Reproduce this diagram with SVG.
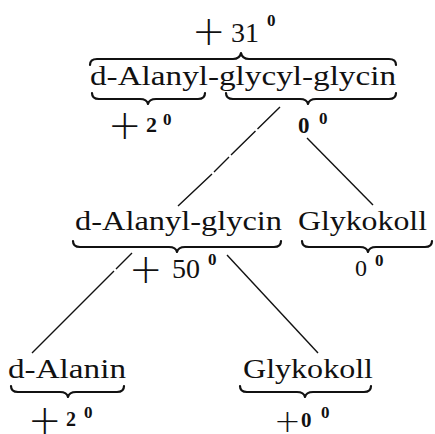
<svg xmlns="http://www.w3.org/2000/svg" width="435" height="434" viewBox="0 0 435 434">
<style>
text{font-family:"Liberation Serif","Times New Roman",serif;fill:#111;}
.name{font-size:28px;}
.plus{font-family:"DejaVu Sans",sans-serif;font-weight:200;font-size:40px;}
.num{font-size:28px;}
.b{font-weight:bold;}
.sup{font-size:17px;font-weight:bold;}
.brace{fill:none;stroke:#111;stroke-width:2.2;stroke-linecap:round;stroke-linejoin:round;}
.conn{fill:none;stroke:#111;stroke-width:1.4;}
</style>
<rect width="435" height="434" fill="#fff"/>
<g id="connectors">
<path class="conn" d="M280,107 L257.5,129 M255.5,131 L231,155 M229,157 L214,172 M212,174 L178,206"/>
<path class="conn" d="M307,138 L373,205"/>
<path class="conn" d="M132,253 L116,269 M114,271 L32,353"/>
<path class="conn" d="M227,255 L318,353"/>
</g>
<g id="node-tripeptide">
<text x="192" y="45"><tspan class="plus">+</tspan><tspan class="num" x="231" y="42">31</tspan><tspan class="sup" x="267" y="26">0</tspan></text>
<path class="brace" d="M90,65 C90,61 92,59 97,59 L233,59 C237,59 240,58 241,53 C242,58 245,59 249,59 L389,59 C394,59 396,61 396,65"/>
<text class="name" x="90" y="85" textLength="306" lengthAdjust="spacingAndGlyphs">d-Alanyl-glycyl-glycin</text>
<path class="brace" d="M92,93 C92,97 94,99 99,99 L140,99 C144,99 147,100 148,104 C149,100 152,99 156,99 L198,99 C203,99 205,97 205,93"/>
<path class="brace" d="M226,93 C226,97 228,99 233,99 L300,99 C304,99 307,100 308,104 C309,100 312,99 316,99 L389,99 C394,99 396,97 396,93"/>
<text x="108" y="139"><tspan class="plus">+</tspan><tspan class="num b" style="font-size:22px" x="146" y="132">2</tspan><tspan class="sup" x="163" y="125">0</tspan></text>
<text x="298" y="133"><tspan class="num b" style="font-size:23px">0</tspan><tspan class="sup" x="319" y="124">0</tspan></text>
</g>
<g id="node-dipeptide">
<text class="name" x="75" y="230" textLength="207" lengthAdjust="spacingAndGlyphs">d-Alanyl-glycin</text>
<path class="brace" d="M73,241 C73,245 75,247 80,247 L169,247 C173,247 176,248 177,252 C178,248 181,247 185,247 L274,247 C279,247 281,245 281,241"/>
<text x="129" y="283"><tspan class="plus">+</tspan><tspan class="num" x="172" y="278">50</tspan><tspan class="sup" x="208" y="265">0</tspan></text>
</g>
<g id="node-glykokoll-1">
<text class="name" x="298" y="230" textLength="129" lengthAdjust="spacingAndGlyphs">Glykokoll</text>
<path class="brace" d="M302,241 C302,245 304,247 309,247 L360,247 C364,247 367,248 368,252 C369,248 372,247 376,247 L425,247 C430,247 432,245 432,241"/>
<text x="355" y="276"><tspan class="num" style="font-size:24px">0</tspan><tspan class="sup" x="375" y="266">0</tspan></text>
</g>
<g id="node-alanin">
<text class="name" x="8" y="378" textLength="118" lengthAdjust="spacingAndGlyphs">d-Alanin</text>
<path class="brace" d="M11,386 C11,390 13,392 18,392 L60,392 C64,392 67,393 68,397 C69,393 72,392 76,392 L117,392 C122,392 124,390 124,386"/>
<text x="28" y="434"><tspan class="plus">+</tspan><tspan class="num b" style="font-size:20px" x="66" y="426">2</tspan><tspan class="sup" x="84" y="418">0</tspan></text>
</g>
<g id="node-glykokoll-2">
<text class="name" x="243" y="378" textLength="130" lengthAdjust="spacingAndGlyphs">Glykokoll</text>
<path class="brace" d="M240,386 C240,390 242,392 247,392 L297,392 C301,392 304,393 305,397 C306,393 309,392 313,392 L364,392 C369,392 371,390 371,386"/>
<text x="274" y="432"><tspan class="plus" style="font-size:32px">+</tspan><tspan class="num b" style="font-size:21px" x="301" y="427">0</tspan><tspan class="sup" x="321" y="418">0</tspan></text>
</g>
</svg>
